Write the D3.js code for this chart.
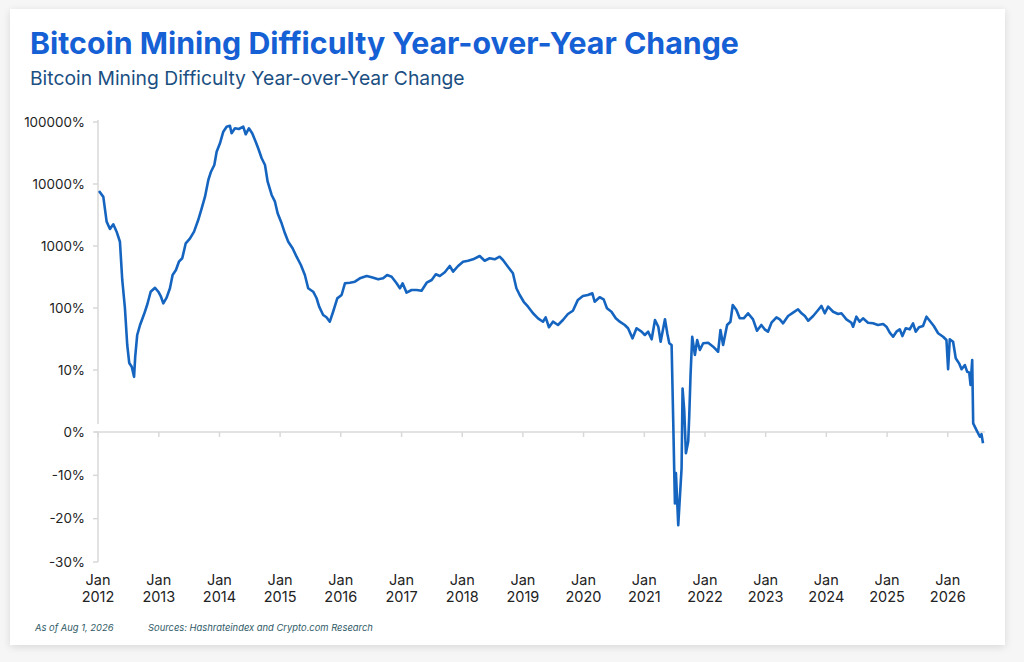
<!DOCTYPE html>
<html>
<head>
<meta charset="utf-8">
<script src="https://cdn.jsdelivr.net/npm/d3@7"></script>
<style>
    html, body { margin: 0; padding: 0; background: #f6f6f6; }
    body { width: 1024px; height: 662px; overflow: hidden; font-family: Inter, Roboto, "Noto Sans", sans-serif; }
    .card { position: absolute; left: 10px; top: 9px; width: 995px; height: 636px; background: #fff;
            box-shadow: 0 2px 8px rgba(0,0,0,0.12); }
    svg { position: absolute; left: 0; top: 0; }
</style>
</head>
<body>
<div class="card"></div>
<svg id="chart" width="1024" height="662"></svg>
<script>
// year-over-year change of mining difficulty, in percent
const dates = [
    "2012-01-07", "2012-02-02", "2012-02-22", "2012-03-13", "2012-04-02", "2012-04-22", "2012-05-12", "2012-05-26",
    "2012-06-11", "2012-06-25", "2012-07-07", "2012-07-22", "2012-08-05", "2012-08-12", "2012-08-24", "2012-09-10",
    "2012-10-04", "2012-10-24", "2012-11-13", "2012-12-09", "2012-12-29", "2013-01-14", "2013-01-28", "2013-02-17",
    "2013-03-09", "2013-03-25", "2013-04-14", "2013-05-02", "2013-05-22", "2013-06-12", "2013-07-08", "2013-08-01",
    "2013-08-26", "2013-09-16", "2013-10-06", "2013-10-26", "2013-11-11", "2013-12-01", "2013-12-15", "2014-01-04",
    "2014-01-24", "2014-02-13", "2014-03-05", "2014-03-15", "2014-04-04", "2014-04-28", "2014-05-24", "2014-06-08",
    "2014-06-27", "2014-07-17", "2014-08-07", "2014-08-22", "2014-09-12", "2014-10-02", "2014-10-18", "2014-11-11",
    "2014-12-01", "2014-12-17", "2015-01-10", "2015-01-30", "2015-02-19", "2015-03-17", "2015-04-10", "2015-05-06",
    "2015-05-30", "2015-06-19", "2015-07-19", "2015-08-08", "2015-08-24", "2015-09-17", "2015-10-07", "2015-10-27",
    "2015-11-16", "2015-12-11", "2016-01-06", "2016-01-26", "2016-02-25", "2016-03-26", "2016-04-25", "2016-06-05",
    "2016-07-05", "2016-08-13", "2016-09-12", "2016-10-06", "2016-11-02", "2016-12-02", "2016-12-22", "2017-01-07",
    "2017-01-31", "2017-03-02", "2017-04-01", "2017-05-01", "2017-06-01", "2017-07-01", "2017-07-26", "2017-08-19",
    "2017-09-18", "2017-10-18", "2017-11-07", "2017-12-07", "2018-01-06", "2018-02-05", "2018-03-07", "2018-04-16",
    "2018-05-16", "2018-06-15", "2018-07-15", "2018-08-14", "2018-09-03", "2018-10-03", "2018-11-02", "2018-11-23",
    "2018-12-13", "2019-01-06", "2019-02-01", "2019-03-03", "2019-04-02", "2019-05-02", "2019-05-18", "2019-06-07",
    "2019-07-01", "2019-07-31", "2019-08-30", "2019-09-29", "2019-10-29", "2019-11-28", "2019-12-28", "2020-01-27",
    "2020-02-23", "2020-03-08", "2020-04-07", "2020-05-01", "2020-05-21", "2020-06-17", "2020-07-13", "2020-08-06",
    "2020-09-05", "2020-09-25", "2020-10-22", "2020-11-15", "2020-12-15", "2021-01-04", "2021-01-24", "2021-02-14",
    "2021-03-06", "2021-03-26", "2021-04-09", "2021-05-05", "2021-05-19", "2021-05-31", "2021-06-14", "2021-06-24",
    "2021-06-30", "2021-07-04", "2021-07-10", "2021-07-24", "2021-08-03", "2021-08-13", "2021-08-19", "2021-08-29",
    "2021-09-08", "2021-09-22", "2021-09-28", "2021-10-06", "2021-10-16", "2021-11-01", "2021-11-15", "2021-12-01",
    "2021-12-21", "2022-01-20", "2022-02-19", "2022-03-21", "2022-04-04", "2022-04-20", "2022-05-14", "2022-06-03",
    "2022-06-17", "2022-07-09", "2022-07-29", "2022-08-22", "2022-09-17", "2022-10-17", "2022-11-10", "2022-12-06",
    "2022-12-26", "2023-01-15", "2023-02-05", "2023-03-07", "2023-03-27", "2023-04-16", "2023-05-16", "2023-06-15",
    "2023-07-15", "2023-08-05", "2023-08-25", "2023-09-14", "2023-10-14", "2023-11-13", "2023-12-03", "2023-12-23",
    "2024-01-12", "2024-02-11", "2024-03-12", "2024-04-01", "2024-05-01", "2024-05-31", "2024-06-10", "2024-06-30",
    "2024-07-20", "2024-08-09", "2024-09-08", "2024-10-08", "2024-11-07", "2024-12-08", "2024-12-28", "2025-01-17",
    "2025-02-06", "2025-02-26", "2025-03-18", "2025-04-03", "2025-04-23", "2025-05-17", "2025-06-06", "2025-06-22",
    "2025-07-12", "2025-08-05", "2025-08-26", "2025-09-19", "2025-10-09", "2025-11-04", "2025-12-04", "2025-12-24",
    "2026-01-03", "2026-01-13", "2026-02-02", "2026-02-18", "2026-03-10", "2026-03-25", "2026-04-14", "2026-04-28",
    "2026-05-10", "2026-05-18", "2026-05-28", "2026-06-03", "2026-06-23", "2026-07-13", "2026-07-23", "2026-08-01"
];

const values = [
    7700, 6200, 2470, 1880, 2240, 1700, 1170, 283,
    100, 25.3, 13, 11.3, 8.9, 16.4, 36.7, 53.2,
    79.1, 115, 183, 212, 183, 152, 119, 147,
    208, 340, 410, 558, 634, 1106, 1331, 1702,
    2625, 4055, 6237, 11610, 15780, 20230, 33190, 45290,
    69820, 83950, 87100, 65770, 79070, 77090, 83950, 63390,
    79070, 65770, 48080, 37670, 26000, 20230, 10890, 6650,
    5185, 3367, 2323, 1603, 1172, 918, 672, 494,
    340, 208, 183, 145, 105, 77.1, 70.8, 60.1,
    87.1, 143, 162, 250, 256, 266, 301, 328,
    313, 290, 301, 340, 320, 250, 208, 250,
    177, 195, 195, 190, 256, 283, 350, 328,
    377, 476, 385, 476, 558, 579, 610, 690,
    579, 634, 610, 672, 594, 464, 363, 208,
    162, 126, 105, 82.2, 68.2, 60.1, 70.8, 48.9,
    60.1, 53.2, 64, 80, 90.4, 135, 156, 162,
    173, 126, 149, 138, 98.9, 87.1, 68.2, 60.1,
    53.2, 47.1, 32.4, 47.1, 41.5, 36.7, 41.5, 31.3,
    64, 49.9, 28.6, 65.7, 39.1, 27, 25.3, 1.4,
    -9.2, -16.5, -9.5, -21.5, -14.9, -8.4, 7.0, 3.5,
    -4.9, -2.2, 2.5, 9.2, 34.4, 17.5, 30.5, 21,
    27, 27.5, 23.8, 19.7, 44.2, 25.3, 53.2, 60.1,
    112, 92.9, 68.2, 68.2, 82.2, 65.7, 43, 53.2,
    45.3, 41.5, 57.9, 70.8, 65.7, 56.6, 74.3, 84,
    95.3, 82.2, 74.3, 62.4, 74.3, 92.9, 108, 82.2,
    105, 87.1, 80, 82.2, 65.7, 57.9, 49.9, 72.4,
    60.1, 68.2, 57.9, 56.6, 53.2, 55.2, 49.9, 40,
    34.4, 41.5, 45.3, 35.3, 47.1, 45.3, 56.6, 41.5,
    48.9, 51.3, 72.4, 60.1, 51.3, 39.1, 34.4, 30.5,
    10.3, 31.3, 28.6, 15.5, 12.8, 10.3, 12, 9.7,
    9.6, 7.6, 14.5, 1.4, 0.3, -1.1, -0.5, -2.6
];

const yTicks = [100000, 10000, 1000, 100, 10, 0, -10, -20, -30];
const yTickLabels = ["100000%", "10000%", "1000%", "100%", "10%", "0%", "-10%", "-20%", "-30%"];
const xTickYears = d3.range(2012, 2027);

const titleText = "Bitcoin Mining Difficulty Year-over-Year Change";
const subtitleText = "Bitcoin Mining Difficulty Year-over-Year Change";
const asOfText = "As of Aug 1, 2026";
const sourceText = "Sources: Hashrateindex and Crypto.com Research";

const parseDate = d3.timeParse("%Y-%m-%d");
const data = dates.map((d, i) => ({date: parseDate(d), value: values[i]}));

const svg = d3.select("#chart");

let x = d3.scaleTime()
    .domain([new Date(2012, 0, 1), new Date(2026, 7, 1)])
    .range([98, 983]);

// log part above 10%, linear part below
let yLog = d3.scaleLog().domain([10, 100000]).range([370, 122]);
let yLin = d3.scaleLinear().domain([-30, 0, 10]).range([562, 432, 370]);
const y = v => v >= 10 ? yLog(v) : yLin(v);

// titles
svg.append("text")
    .attr("x", 30).attr("y", 54)
    .attr("font-size", 30.3).attr("font-weight", 700)
    .attr("fill", "#1560d4")
    .text(titleText);

svg.append("text")
    .attr("x", 30).attr("y", 85)
    .attr("font-size", 19.3)
    .attr("fill", "#1b4f82")
    .text(subtitleText);

// y axis lines
let axisColor = "#d9d9d9";
svg.append("line")
    .attr("x1", 98).attr("x2", 98)
    .attr("y1", yLog(100000) - 2).attr("y2", yLin(1.3))
    .attr("stroke", axisColor).attr("stroke-width", 1.5);
svg.append("line")
    .attr("x1", 98).attr("x2", 98)
    .attr("y1", yLin(0)).attr("y2", yLin(-30))
    .attr("stroke", axisColor).attr("stroke-width", 1.5);

let yAxis = svg.append("g").attr("class", "y-axis");
yAxis.selectAll("line")
    .data(yTicks)
    .enter().append("line")
    .attr("x1", 93).attr("x2", 98)
    .attr("y1", d => y(d)).attr("y2", d => y(d))
    .attr("stroke", axisColor).attr("stroke-width", 1.5);
yAxis.selectAll("text")
    .data(yTicks)
    .enter().append("text")
    .attr("x", 85)
    .attr("y", d => y(d))
    .attr("dy", "0.35em")
    .attr("text-anchor", "end")
    .attr("font-size", 13.4)
    .attr("fill", "#222")
    .text((d, i) => yTickLabels[i]);

// x axis along 0%
svg.append("line")
    .attr("x1", 95).attr("x2", 985)
    .attr("y1", yLin(0)).attr("y2", yLin(0))
    .attr("stroke", axisColor).attr("stroke-width", 1.5);

let xAxis = svg.append("g").attr("class", "x-axis");
let tickDates = xTickYears.map(yr => new Date(yr, 0, 1));
xAxis.selectAll("line")
    .data(tickDates)
    .enter().append("line")
    .attr("x1", d => x(d)).attr("x2", d => x(d))
    .attr("y1", yLin(0)).attr("y2", yLin(0) + 5)
    .attr("stroke", axisColor).attr("stroke-width", 1.5);

let xLabel = xAxis.selectAll("text")
    .data(tickDates)
    .enter().append("text")
    .attr("text-anchor", "middle")
    .attr("font-size", 14.5)
    .attr("fill", "#222");
xLabel.append("tspan")
    .attr("x", d => x(d)).attr("y", 585)
    .text("Jan");
xLabel.append("tspan")
    .attr("x", d => x(d)).attr("y", 602)
    .text(d => d.getFullYear());

// the series
let line = d3.line()
    .x(d => x(d.date))
    .y(d => y(d.value));

svg.append("path")
    .datum(data)
    .attr("d", line)
    .attr("fill", "none")
    .attr("stroke", "#1565c0")
    .attr("stroke-width", 2.6)
    .attr("stroke-linejoin", "round");

// footer
svg.append("text")
    .attr("x", 35).attr("y", 631)
    .attr("font-size", 9.4).attr("font-style", "italic")
    .attr("fill", "#2f5a66")
    .text(asOfText);
svg.append("text")
    .attr("x", 148).attr("y", 631)
    .attr("font-size", 9.4).attr("font-style", "italic")
    .attr("fill", "#2f5a66")
    .text(sourceText);
</script>
</body>
</html>
